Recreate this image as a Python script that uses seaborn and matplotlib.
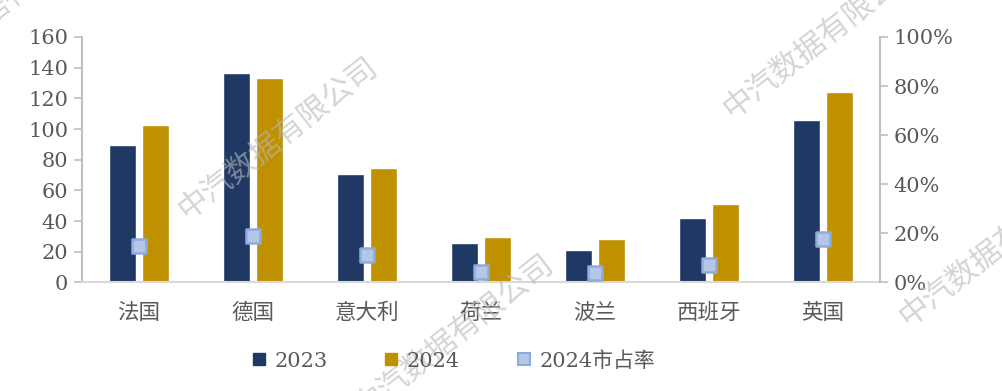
import numpy as np
import pandas as pd
import matplotlib
matplotlib.use("Agg")
import matplotlib.pyplot as plt
import seaborn as sns
from matplotlib.lines import Line2D
from matplotlib.ticker import PercentFormatter

countries = ["法国", "德国", "意大利", "荷兰", "波兰", "西班牙", "英国"]
sales_2023 = [89.5, 136.3, 70.6, 25.5, 20.9, 41.8, 105.7]
sales_2024 = [102.5, 133.3, 74.5, 29.4, 28.1, 50.9, 124]
share_2024 = [0.15, 0.19, 0.11, 0.043, 0.04, 0.073, 0.178]
series = ["2023", "2024"]
share_label = "2024市占率"

sns.set_theme(style="white")
plt.rcParams['font.family'] = ['DejaVu Serif', 'Noto Sans CJK SC', 'DejaVu Sans']

c2023 = "#1f3864"
c2024 = "#bf9000"
share_face = "#b4c7e7"
share_edge = "#8faadc"
txt = "#595959"
axc = "#bfbfbf"

df = pd.DataFrame({
    "country": countries * 2,
    "year": [series[0]] * len(countries) + [series[1]] * len(countries),
    "value": sales_2023 + sales_2024,
})

fig = plt.figure(figsize=(10.03, 3.91), dpi=100)
ax = fig.add_axes([0.0818, 0.2775, 0.7955, 0.628])

sns.barplot(data=df, x="country", y="value", hue="year", order=countries,
            hue_order=series, palette=[c2023, c2024], width=0.58, gap=0.2,
            ax=ax, legend=False, saturation=1)
ax.set_ylim(0, 160)
ax.set_yticks(np.arange(0, 161, 20))
ax.set_xlim(-0.5, len(countries) - 0.5)
ax.set_xlabel("")
ax.set_ylabel("")

ax2 = ax.twinx()
sns.scatterplot(x=countries, y=share_2024, ax=ax2, marker="s", s=95,
                color=share_face, edgecolor=share_edge, linewidth=1.8, zorder=5)
ax2.set_ylim(0, 1.0)
ax2.set_yticks(np.arange(0, 1.01, 0.2))
ax2.yaxis.set_major_formatter(PercentFormatter(1.0, decimals=0))
ax2.set_xlim(-0.5, len(countries) - 0.5)

for a in (ax, ax2):
    for s in a.spines.values():
        s.set_visible(False)
    a.tick_params(axis="y", colors=txt, labelsize=15, length=6, width=1.2, direction="out")
    a.tick_params(axis="y", color=axc)
ax.spines["left"].set_visible(True)
ax.spines["left"].set_color(axc)
ax.spines["left"].set_linewidth(1.5)
ax.spines["bottom"].set_visible(True)
ax.spines["bottom"].set_color("#d9d9d9")
ax.spines["bottom"].set_linewidth(1.5)
ax2.spines["right"].set_visible(True)
ax2.spines["right"].set_color(axc)
ax2.spines["right"].set_linewidth(1.5)
ax.tick_params(axis="x", length=0, labelsize=15.5, colors=txt, pad=14)
ax.tick_params(axis="y", left=True, pad=4)
ax2.tick_params(axis="y", right=True, pad=4)

handles = [
    Line2D([], [], marker="s", linestyle="none", markersize=9, markerfacecolor=c2023, markeredgecolor=c2023),
    Line2D([], [], marker="s", linestyle="none", markersize=9, markerfacecolor=c2024, markeredgecolor=c2024),
    Line2D([], [], marker="s", linestyle="none", markersize=9, markerfacecolor=share_face, markeredgecolor=share_edge, markeredgewidth=1.5),
]
leg = fig.legend(handles, series + [share_label], loc="center", bbox_to_anchor=(0.452, 0.077),
                 ncol=3, frameon=False, fontsize=15, handletextpad=0.4, columnspacing=2.7,
                 handlelength=0.7)
for t in leg.get_texts():
    t.set_color(txt)

# watermarks
wm = "中汽数据有限公司"
for (x, y) in [(0.277, 0.647), (0.82, 0.905), (0.452, 0.143), (0.995, 0.373), (0.005, 1.0)]:
    fig.text(x, y, wm, rotation=38, fontsize=22, color="#b8b8b8", alpha=0.6,
             ha="center", va="center", family=['Noto Sans CJK SC'], zorder=0)

fig.savefig("out.png", dpi=100)
